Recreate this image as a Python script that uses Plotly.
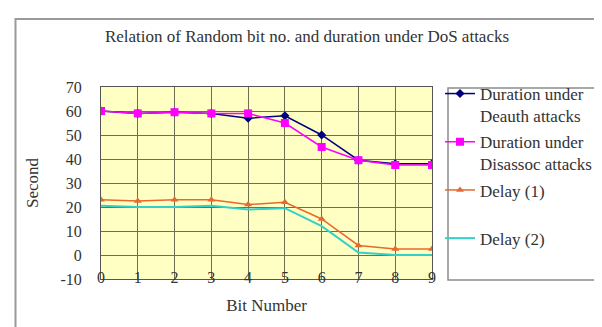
import plotly.graph_objects as go

bits = [0, 1, 2, 3, 4, 5, 6, 7, 8, 9]
deauth = [60, 59, 59.5, 59, 57, 58, 50, 39.5, 38, 38]
disassoc = [60, 59, 59.5, 59, 59, 55, 45, 39.5, 37.5, 37.5]
delay1 = [23, 22.5, 23, 23, 21, 22, 15, 4, 2.5, 2.5]
delay2 = [20.5, 20, 20, 20.5, 19, 19.5, 12, 1, 0, 0]

y_ticks = [-10, 0, 10, 20, 30, 40, 50, 60, 70]
y_tick_labels = ["-10", "0", "10", "20", "30", "40", "50", "60", "70"]

FONT = "Liberation Serif, Times New Roman, serif"
TXT = "#333333"
fig = go.Figure()
fig.add_trace(go.Scatter(x=bits, y=deauth, mode="lines+markers",
                         name="Duration under<br>Deauth attacks", legendgroup="a",
                         line=dict(color="#000080", width=1.5),
                         marker=dict(symbol="diamond", size=7, color="#000080")))
fig.add_trace(go.Scatter(x=bits, y=disassoc, mode="lines+markers",
                         name="Duration under<br>Disassoc attacks", legendgroup="b",
                         line=dict(color="#FF00FF", width=1.5),
                         marker=dict(symbol="square", size=8, color="#FF00FF")))
fig.add_trace(go.Scatter(x=bits, y=delay1, mode="lines+markers",
                         name="Delay (1)<br>\u00a0", legendgroup="c",
                         line=dict(color="#E8682E", width=1.5),
                         marker=dict(symbol="triangle-up", size=7, color="#E8682E")))
fig.add_trace(go.Scatter(x=bits, y=delay2, mode="lines",
                         name="Delay (2)<br>\u00a0", legendgroup="d",
                         line=dict(color="#33D0C8", width=2)))

L, R, T, B = 93, 178, 79, 56
W, H = 602, 327
pw, ph = W - L - R, H - T - B

def px_x(x):
    return (x - L) / pw

def px_y(y):
    return (H - B - y) / ph

fig.add_shape(type="rect", xref="paper", yref="paper",
              x0=px_x(440), x1=px_x(599), y0=px_y(272), y1=px_y(80),
              line=dict(color="#8C8C8C", width=1.5), fillcolor="rgba(0,0,0,0)")
fig.add_shape(type="rect", xref="paper", yref="paper",
              x0=px_x(7.5), x1=px_x(603), y0=px_y(330), y1=px_y(11),
              line=dict(color="#9A9A9A", width=2), fillcolor="rgba(0,0,0,0)")

fig.update_layout(
    width=W, height=H,
    margin=dict(l=L, r=R, t=T, b=B),
    paper_bgcolor="white",
    plot_bgcolor="#FFFFC4",
    font=dict(family=FONT, size=16, color=TXT),
    title=dict(text="Relation of Random bit no. and duration under DoS attacks",
               x=px_x(299), xanchor="center", xref="paper",
               y=1 - 28 / H, yanchor="middle",
               font=dict(family=FONT, size=17, color=TXT)),
    showlegend=True,
    legend=dict(x=px_x(432), xanchor="left", y=px_y(68), yanchor="top",
                bgcolor="rgba(0,0,0,0)", borderwidth=0, maxheight=320,
                tracegroupgap=1, valign="top", itemwidth=30,
                font=dict(family=FONT, size=17, color=TXT)),
    xaxis=dict(range=[0, 9], tickmode="array", tickvals=bits,
               showgrid=True, gridcolor="#6E6E50", gridwidth=1,
               showline=True, linecolor="#555555", mirror=True,
               zeroline=False, ticks="", ticklabelstandoff=-16,
               tickfont=dict(family=FONT, size=16, color=TXT),
               title=dict(text="Bit Number", standoff=13,
                          font=dict(family=FONT, size=17, color=TXT))),
    yaxis=dict(range=[-10, 70], tickmode="array", tickvals=y_ticks,
               ticktext=y_tick_labels,
               showgrid=True, gridcolor="#6E6E50", gridwidth=1,
               showline=True, linecolor="#555555", mirror=True,
               zeroline=False, ticks="", ticklabelstandoff=15,
               tickfont=dict(family=FONT, size=16, color=TXT),
               title=dict(text="Second", standoff=17,
                          font=dict(family=FONT, size=17, color=TXT))),
)

fig.write_html("out.html")
